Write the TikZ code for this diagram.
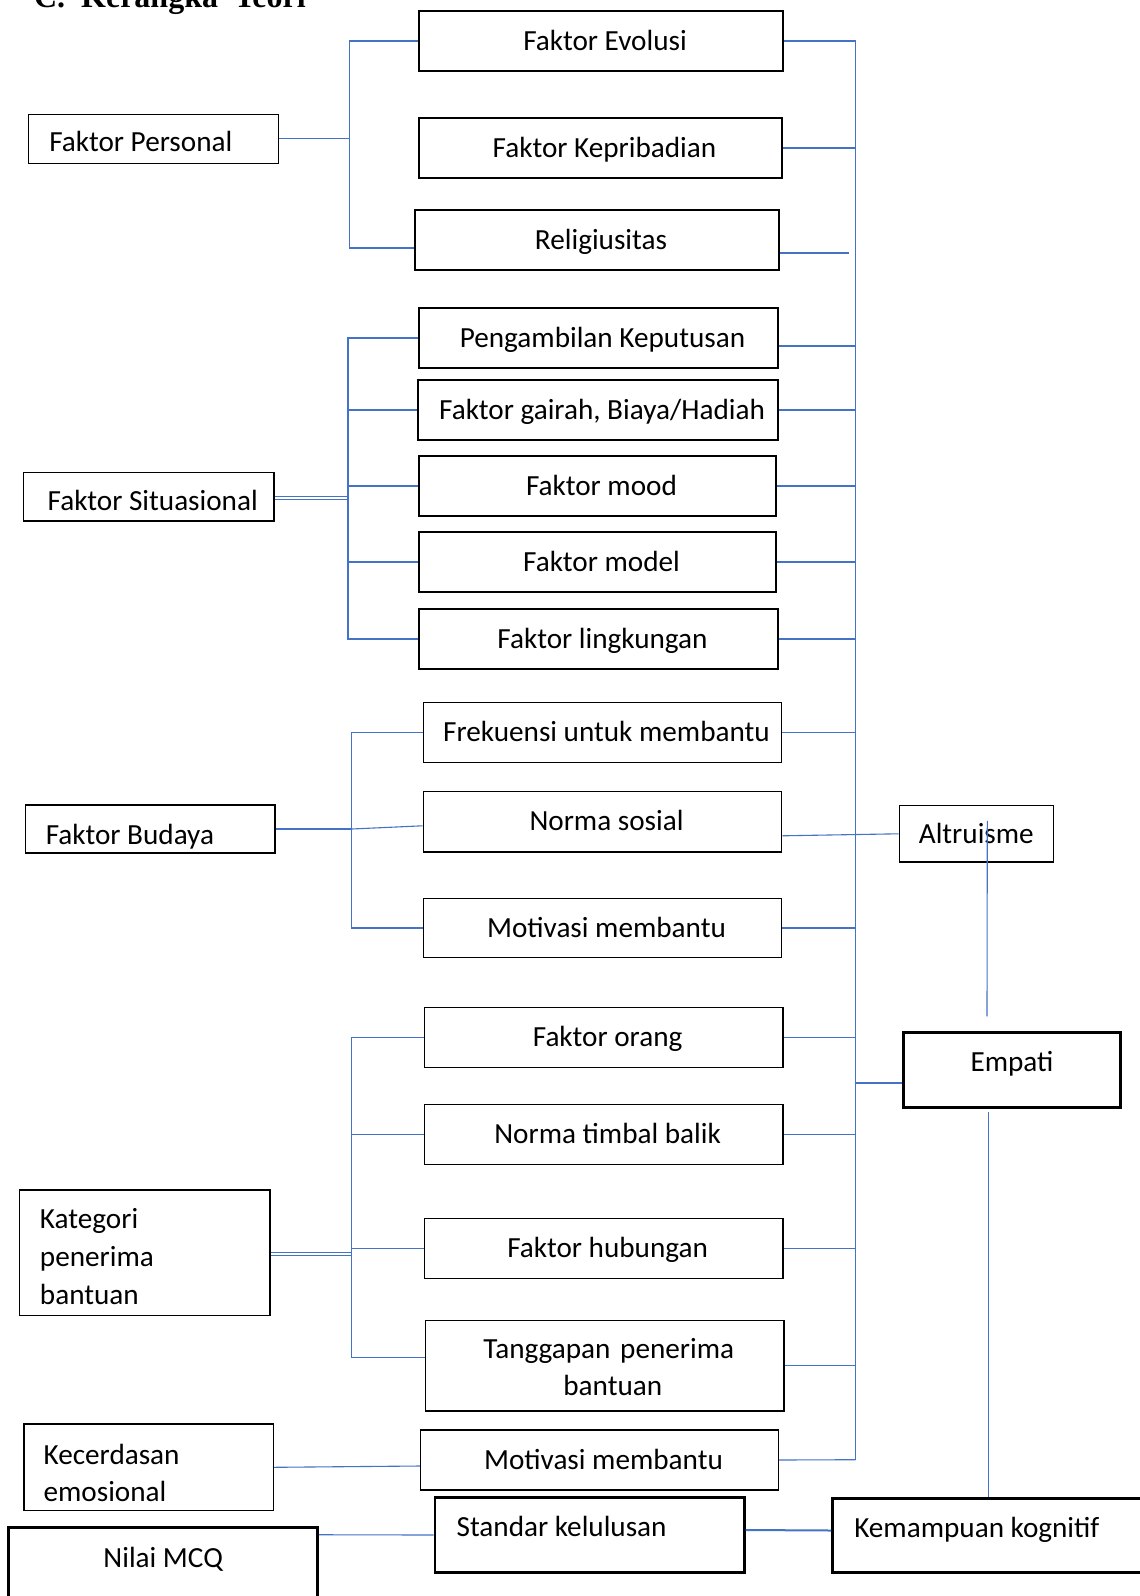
\documentclass[tikz,border=0pt]{standalone}
\usepackage{fontspec}
\setmainfont{Carlito}
\newfontfamily\judulfont{Liberation Serif}
\usetikzlibrary{calc}
\definecolor{linkblue}{HTML}{4472C4}

\begin{document}
\begin{tikzpicture}[x=0.5pt,y=-0.5pt,-,font=\fontsize{14.6}{18.5}\selectfont,
    main node/.style={rectangle,draw,line width=0.75pt,inner sep=0pt,text height=10pt,text depth=1pt},
    column node/.style={main node,minimum height=30pt,execute at begin node={\hspace*{4pt}}},
    multi node/.style={rectangle,draw,line width=0.75pt,inner ysep=0pt},
    heavy/.style={line width=1.25pt},
    link/.style={draw=linkblue,line width=0.55pt}]

    \useasboundingbox (0,0) rectangle (1140,1596);
    \fill[white] (0,0) rectangle (1140,1596);

    \node (0) at (27,7) [anchor=base west,font=\judulfont\bfseries\fontsize{16}{19}\selectfont]{C.\ \ Kerangka\ \ Teori};

    \node (1) at (153.3,138.8) [main node,minimum width=125pt,minimum height=24.5pt,inner xsep=10.5pt,text height=13pt,text depth=0pt]{\makebox[104pt][l]{Faktor Personal}};
    \node (2) at (601,41) [column node,minimum width=182pt]{Faktor Evolusi};
    \node (3) at (600.5,148) [column node,minimum width=181.5pt]{Faktor Kepribadian};
    \node (4) at (597,240) [column node,minimum width=182pt]{Religiusitas};

    \node (5) at (148.6,496.8) [main node,minimum width=125.35pt,minimum height=24.15pt,inner xsep=12.2pt,text height=13.6pt,text depth=0pt]{\makebox[100.95pt][l]{Faktor Situasional}};
    \node (6) at (598.5,338) [column node,minimum width=179.5pt]{Pengambilan Keputusan};
    \node (7) at (598,410) [column node,minimum width=180pt]{Faktor gairah, Biaya/Hadiah};
    \node (8) at (597.5,486) [column node,minimum width=178.5pt]{Faktor mood};
    \node (9) at (597.5,562) [column node,minimum width=178.5pt]{Faktor model};
    \node (10) at (598.5,639) [column node,minimum width=179.5pt]{Faktor lingkungan};

    \node (11) at (150.1,829) [main node,minimum width=124.7pt,minimum height=24pt,inner xsep=10.2pt,text height=15pt,text depth=0pt]{\makebox[104.3pt][l]{Faktor Budaya}};
    \node (12) at (602.5,732.7) [column node,minimum width=179.2pt]{Frekuensi untuk membantu};
    \node (13) at (602.5,821.8) [column node,minimum width=179.2pt,minimum height=30.15pt]{Norma sosial};
    \node (14) at (602.5,928) [column node,minimum width=179.2pt,minimum height=29.7pt]{Motivasi membantu};

    \node (15) at (144.6,1252.8) [multi node,minimum width=125.35pt,minimum height=62.85pt,inner xsep=10.35pt,text width=104.65pt,align=left,font=\fontsize{14.6}{18.9}\selectfont]{\rule{0pt}{13.5pt}Kategori\\penerima\\bantuan};
    \node (16) at (603.6,1037.7) [column node,minimum width=179.15pt]{Faktor orang};
    \node (17) at (603.6,1134.5) [column node,minimum width=179.15pt]{Norma timbal balik};
    \node (18) at (603.6,1248.5) [column node,minimum width=179.15pt]{Faktor hubungan};
    \node (19) at (604.8,1365.8) [multi node,minimum width=179.15pt,minimum height=45.15pt,text width=170pt,align=center]{\rule{0pt}{11.5pt}\hspace*{4pt}Tanggapan penerima\\\hspace*{8pt}bantuan};

    \node (20) at (148.7,1467.3) [multi node,minimum width=124.7pt,minimum height=43.35pt,inner xsep=9.8pt,text width=105.1pt,align=left]{\rule{0pt}{15.4pt}Kecerdasan\\emosional};
    \node (21) at (599.5,1460) [column node,minimum width=178.8pt]{Motivasi membantu};
    \node (22) at (163.2,1568.7) [main node,heavy,minimum width=154.5pt,minimum height=41pt,text depth=11.3pt]{Nilai MCQ};
    \node (23) at (589.6,1535) [main node,heavy,minimum width=154.85pt,minimum height=37.7pt,inner xsep=10.9pt,text depth=8.6pt]{\makebox[133pt][l]{Standar kelulusan}};
    \node (24) at (988.7,1535.5) [main node,heavy,minimum width=156.25pt,minimum height=37.2pt,inner xsep=10.9pt,text depth=8.1pt]{\makebox[134.45pt][l]{Kemampuan kognitif}};

    \node (25) at (976.3,833.8) [main node,minimum width=77pt,minimum height=28.15pt,text depth=0pt]{Altruisme};
    \node (26) at (1012,1070) [main node,heavy,minimum width=108.7pt,minimum height=37.7pt,text depth=9pt]{Empati};

    % bars on the left
    \coordinate (p) at ($(1.east)+(70.7,0)$);
    \coordinate (s) at ($(5.east)+(73.3,0)$);
    \coordinate (c) at ($(11.east)+(76.2,0)$);
    \coordinate (k) at ($(15.east)+(80.7,0)$);

    % bar on the right
    \coordinate (a) at (855.7,40.7);
    \coordinate (b) at (855.7,1459.7);
    \coordinate (r4) at ($(4.east)+(0,13)$);
    \coordinate (r6) at ($(6.east)+(0,8)$);
    \coordinate (e) at ($(26.west)+(0,13)$);
    \coordinate (u) at ($(25.center)+(11,-13)$);
    \coordinate (v) at ($(26.north)+(-25,-14.6)$);
    \coordinate (w) at ($(26.south)+(-23.3,3)$);
    \coordinate (n) at ($(22.north east)+(0,8.3)$);

    \draw[link] (2.west) -| (p) |- ([yshift=-4pt]4.west);
    \draw[link] (6.west) -| (s) |- (10.west);
    \draw[link] (12.west) -| (c) |- (14.west);
    \draw[link] (16.west) -| (k) |- ([yshift=4.2pt]19.west);
    \draw[link] (a) -- (b);

    \path[link]
        (1.east) edge (p)
        (5.east) edge (s)
        ([yshift=-1.5pt]5.east) edge ([yshift=-1.5pt]s)
        (s |- 7.west) edge (7.west)
        (s |- 8.west) edge (8.west)
        (s |- 9.west) edge (9.west)
        (11.east) edge (c)
        (c) edge ([yshift=-2pt]13.west)
        (15.east) edge (k)
        ([yshift=-1.2pt]15.east) edge ([yshift=-1.2pt]k)
        (k |- 17.west) edge (17.west)
        (k |- 18.west) edge (18.west)

        (2.east) edge (2.east -| a)
        (3.east) edge (3.east -| a)
        (r4) edge [shorten >=3.5pt] (r4 -| a)
        (r6) edge (r6 -| a)
        (7.east) edge (7.east -| a)
        (8.east) edge (8.east -| a)
        (9.east) edge (9.east -| a)
        (10.east) edge (10.east -| a)
        (12.east) edge (12.east -| a)
        ([yshift=-7pt]13.east) edge (25.west)
        (14.east) edge (14.east -| a)
        (16.east) edge (16.east -| a)
        (17.east) edge (17.east -| a)
        (18.east) edge (18.east -| a)
        (19.east) edge (19.east -| a)
        (21.east) edge (b)

        (e) edge (e -| a)
        (u) edge (v)
        (w) edge (w |- 24.north)
        (20.east) edge ([yshift=-3pt]21.west)
        (n) edge (23.west)
        ([yshift=2.5pt]23.east) edge [line width=1pt] ([yshift=2.5pt]24.west)
    ;
\end{tikzpicture}
\end{document}
